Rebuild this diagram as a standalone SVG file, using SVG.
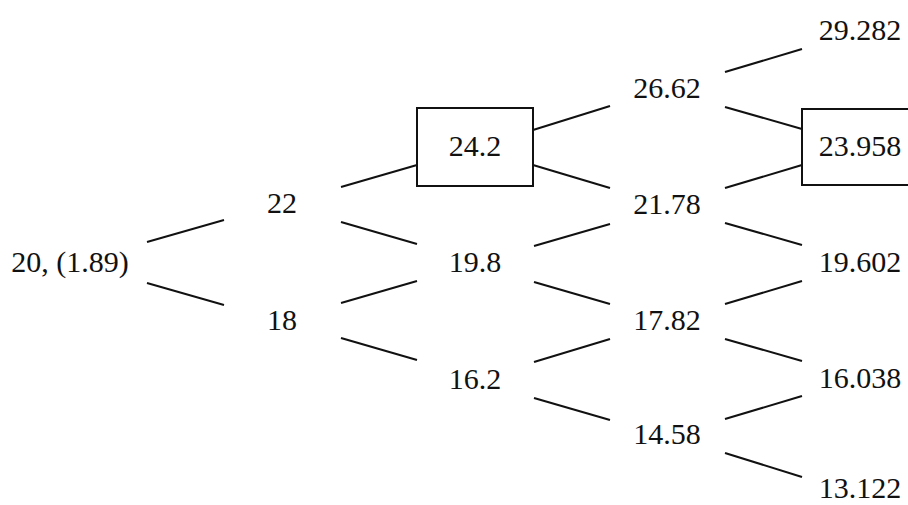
<svg xmlns="http://www.w3.org/2000/svg" width="908" height="505" viewBox="0 0 908 505" font-family="'Liberation Serif', 'Times New Roman', Times, serif">
<style>
text{font-family:'Liberation Serif','Times New Roman',Times,serif;font-size:30px;fill:#111;text-anchor:middle}
.c line{stroke:#111;stroke-width:2}
rect.b{fill:#fff;stroke:#111;stroke-width:2}
</style>
<rect x="0" y="0" width="908" height="505" fill="#fff"/>
<g class="c" id="connectors">
<line x1="147" y1="242" x2="224" y2="220"/>
<line x1="147" y1="283" x2="224" y2="305"/>
<line x1="341" y1="187" x2="417" y2="165"/>
<line x1="341" y1="222" x2="417" y2="244"/>
<line x1="341" y1="303" x2="417" y2="281"/>
<line x1="341" y1="338" x2="417" y2="360"/>
<line x1="533" y1="130" x2="610" y2="106"/>
<line x1="533" y1="165" x2="610" y2="188"/>
<line x1="534" y1="246" x2="610" y2="224"/>
<line x1="534" y1="282" x2="610" y2="304"/>
<line x1="534" y1="362" x2="610" y2="339"/>
<line x1="534" y1="398" x2="610" y2="420"/>
<line x1="725" y1="72" x2="802" y2="49"/>
<line x1="725" y1="107" x2="802" y2="129"/>
<line x1="725" y1="188" x2="802" y2="165"/>
<line x1="725" y1="223" x2="802" y2="245"/>
<line x1="725" y1="304" x2="802" y2="281"/>
<line x1="725" y1="339" x2="802" y2="361"/>
<line x1="725" y1="419" x2="802" y2="396"/>
<line x1="725" y1="453" x2="802" y2="477"/>
</g>
<g id="n0"><text x="70" y="272">20, (1.89)</text></g>
<g id="n1"><text x="282" y="213">22</text></g>
<g id="n2"><text x="282" y="330">18</text></g>
<g id="n3"><rect class="b" x="417" y="108" width="116" height="78"/><text x="475" y="156">24.2</text></g>
<g id="n4"><text x="475" y="272">19.8</text></g>
<g id="n5"><text x="475" y="389">16.2</text></g>
<g id="n6"><text x="667" y="98">26.62</text></g>
<g id="n7"><text x="667" y="214">21.78</text></g>
<g id="n8"><text x="667" y="330">17.82</text></g>
<g id="n9"><text x="667" y="444">14.58</text></g>
<g id="n10"><text x="860" y="40">29.282</text></g>
<g id="n11"><rect class="b" x="802" y="109" width="120" height="76"/><text x="860" y="156">23.958</text></g>
<g id="n12"><text x="860" y="272">19.602</text></g>
<g id="n13"><text x="860" y="388">16.038</text></g>
<g id="n14"><text x="860" y="498">13.122</text></g>
</svg>
